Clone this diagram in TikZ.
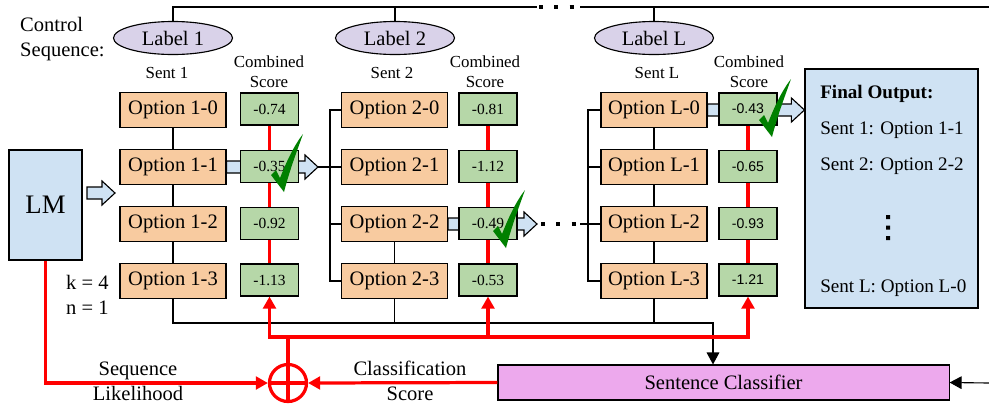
\documentclass[tikz,border=0pt]{standalone}
\usepackage{fontspec}
\setmainfont{Liberation Serif}
\newfontfamily\arialfont{Liberation Sans}
\usetikzlibrary{arrows.meta,calc,backgrounds,shapes.geometric}

\definecolor{optfill}{HTML}{F8CBA0}
\definecolor{scorefill}{HTML}{B6D7A8}
\definecolor{lblfill}{HTML}{D9D2E9}
\definecolor{bluefill}{HTML}{CFE2F3}
\definecolor{clffill}{HTML}{EDA9ED}

\newcommand\bigtext{\fontsize{14.6}{17.8}\selectfont}
\newcommand\midtext{\fontsize{12}{14.2}\selectfont}
\newcommand\smalltext{\fontsize{11}{13}\selectfont}
\newcommand\outtext{\fontsize{13.6}{16}\selectfont}

% hollow block arrow: #1 start, #2 tip
\newcommand\hollowarrow[2]{\draw[harrow] ($(#1)+(0,-6)$) -- ($(#2)+(-13,-6)$) -- ($(#2)+(-13,-12)$) -- (#2)
  -- ($(#2)+(-13,12)$) -- ($(#2)+(-13,6)$) -- ($(#1)+(0,6)$) -- cycle;}
% green tick, #1 = its left corner
\newcommand\greencheck[1]{\fill[chk,shift={(#1)}] (0,0) -- (5,-5) -- (9,3) .. controls (15,-12) and (22,-28) .. (32,-41)
  .. controls (26,-24) and (19,-6) .. (13,17) -- cycle;}

\tikzset{
  opt/.style={draw, fill=optfill, minimum width=2.65cm, minimum height=0.875cm, inner sep=0pt, font=\bigtext},
  score/.style={draw, fill=scorefill, minimum width=1.45cm, minimum height=0.8cm, inner sep=0pt, font=\smalltext},
  sscore/.style={score, font={\arialfont\fontsize{10}{12}\selectfont}},
  lbl/.style={draw, ellipse, fill=lblfill, minimum width=2.975cm, minimum height=0.825cm, inner sep=0pt, font=\bigtext},
  redln/.style={red, line width=2.3pt},
  tip/.style={-{Triangle[length=8.5pt,width=9pt]}},
  harrow/.style={draw, fill=bluefill, line width=0.8pt},
  chk/.style={fill=green!50!black},
  dotrow/.style={line width=2.8pt, dash pattern=on 2.8pt off 8.1pt},
}

\begin{document}
\begin{tikzpicture}[x=0.025cm,y=-0.025cm,line width=0.8pt]
\useasboundingbox (0,0) rectangle (989,403);

% control sequence
\node[align=left,anchor=west,font=\fontsize{14.6}{18.4}\selectfont] (ctrl) at (15,39) {Control\\Sequence:};
\node[lbl] (lb1) at (173,38) {Label 1};
\node[lbl] (lb2) at (395,38) {Label 2};
\node[lbl] (lbL) at (654,38) {Label L};
\coordinate (topr) at (989,7);
\draw (lb1.north) |- (537,7);
\draw[dotrow] (539,7) -- (577,7);
\draw (580,7) -- (topr);
\draw (lb2.north) -- (lb2.north |- topr);
\draw (lbL.north) -- (lbL.north |- topr);

% headers
\node[font=\midtext] (st1) at (167,73) {Sent 1};
\node[font=\midtext] (st2) at (392,73) {Sent 2};
\node[font=\midtext] (stL) at (657,73) {Sent L};
\node[font=\midtext,align=center] (cs1) at (269,72) {Combined\\Score};
\node[font=\midtext,align=center] (cs2) at (485,72) {Combined\\Score};
\node[font=\midtext,align=center] (csL) at (749,72) {Combined\\Score};

% options
\node[opt] (o10) at (173,110) {Option 1-0};
\node[opt] (o11) at (173,167) {Option 1-1};
\node[opt] (o12) at (173,224) {Option 1-2};
\node[opt] (o13) at (173,281) {Option 1-3};
\node[opt] (o20) at (394.5,110) {Option 2-0};
\node[opt] (o21) at (394.5,167) {Option 2-1};
\node[opt] (o22) at (394.5,224) {Option 2-2};
\node[opt] (o23) at (394.5,281) {Option 2-3};
\node[opt] (oL0) at (654,110) {Option L-0};
\node[opt] (oL1) at (654,167) {Option L-1};
\node[opt] (oL2) at (654,224) {Option L-2};
\node[opt] (oL3) at (654,281) {Option L-3};

% scores
\node[score] (s10) at (269.5,109) {-0.74};
\node[score] (s11) at (269.5,166.5) {-0.35};
\node[score] (s12) at (269.5,223.5) {-0.92};
\node[score] (s13) at (269.5,280) {-1.13};
\node[score] (s20) at (488,109) {-0.81};
\node[score] (s21) at (488,166.5) {-1.12};
\node[score] (s22) at (488,223.5) {-0.49};
\node[score] (s23) at (488,280) {-0.53};
\node[sscore] (sL0) at (748,109) {-0.43};
\node[sscore] (sL1) at (748,166.5) {-0.65};
\node[sscore] (sL2) at (748,223.5) {-0.93};
\node[sscore] (sL3) at (748,280) {-1.21};

% LM
\node[draw,fill=bluefill,minimum width=1.825cm,minimum height=2.75cm,inner sep=0pt,
  font=\fontsize{19}{22}\selectfont] (lm) at (45.5,205) {LM};
\node[align=left,anchor=west,font=\bigtext] (kn) at (61,295) {k = 4\\n = 1};

% final output
\node[draw,fill=bluefill,minimum width=4.325cm,minimum height=5.975cm,inner sep=0pt] (fo) at (891.5,188.5) {};
\node[anchor=west,font=\outtext\bfseries] (fot) at (815,94) {Final Output:};
\node[anchor=west,font=\outtext] (fo1) at (815,130) {Sent 1: Option 1-1};
\node[anchor=west,font=\outtext] (fo2) at (815,166) {Sent 2: Option 2-2};
\fill (886,215) rectangle (890,219) (886,225.5) rectangle (890,229.5) (886,236) rectangle (890,240);
\node[anchor=west,font=\outtext] (foL) at (815,288) {Sent L: Option L-0};

% classifier and sum
\node[draw,fill=clffill,minimum width=11.275cm,minimum height=0.875cm,inner sep=0pt,font=\bigtext] (clf) at (723.5,382.5) {Sentence Classifier};
\node[circle,draw=red,line width=2.3pt,minimum size=0.925cm,inner sep=0pt] (plus) at (288,383) {};
\draw[redln] (plus.north) -- (plus.south) (plus.west) -- (plus.east);
\node[align=center,font=\bigtext] (seq) at (138,381) {Sequence\\Likelihood};
\node[align=center,font=\bigtext] (cls) at (410,381) {Classification\\Score};

% block arrows
\coordinate (a0s) at (87,193);
\coordinate (a0) at (115,193);
\coordinate (a1) at (318,167);
\coordinate (a2) at (537,224);
\coordinate (aL) at (fo.west |- oL0);
\begin{scope}[on background layer]
\hollowarrow{a0s}{a0}
\hollowarrow{o11.east}{a1}
\hollowarrow{o22.east}{a2}
\hollowarrow{oL0.east}{aL}
\end{scope}

% tree lines
\draw (o10) -- (o11) (o11) -- (o12) (o12) -- (o13);
\draw (o22) -- (o23);
\draw (oL0) -- (oL1) (oL1) -- (oL2) (oL2) -- (oL3);
\coordinate (br2) at (330,167);
\draw (a1) -- (br2);
\draw (o20.west) -| (br2 |- o23.west) -- (o23.west);
\draw (br2 |- o21.west) -- (o21.west);
\draw (br2 |- o22.west) -- (o22.west);
\draw[dotrow] (541,224) -- (578,224);
\coordinate (dotend) at (580,224);
\coordinate (brL) at (588,224);
\draw (dotend) -- (oL2.west);
\draw (oL0.west) -| (brL |- oL3.west) -- (oL3.west);
\draw (brL |- oL1.west) -- (oL1.west);

% to classifier
\coordinate (clfin) at (713,323);
\draw[tip] (o13.south) |- (clfin) -- (clfin |- clf.north);
\draw (o23.south) -- (o23.south |- clfin);
\draw (oL3.south) -- (oL3.south |- clfin);
\coordinate (rin) at (989,383);
\draw[tip] (rin) -- (clf.east);

% score lines
\draw[redln] (s10) -- (s11) -- (s12) -- (s13);
\draw[redln] (s20) -- (s21) -- (s22) -- (s23);
\draw[redln] (sL0) -- (sL1) -- (sL2) -- (sL3);
\coordinate (junc) at (288,337);
\draw[redln] (plus.north) -- (junc);
\draw[redln,tip] (junc) -| (s13.south);
\draw[redln,tip] (junc) -| (s23.south);
\draw[redln,tip] (junc) -| (sL3.south);
\draw[redln,tip] (lm.south) |- (plus.west);
\draw[redln,tip] (clf.west) -- (plus.east);

% ticks
\greencheck{271,175}
\greencheck{493,231}
\greencheck{759,120}
\end{tikzpicture}
\end{document}
